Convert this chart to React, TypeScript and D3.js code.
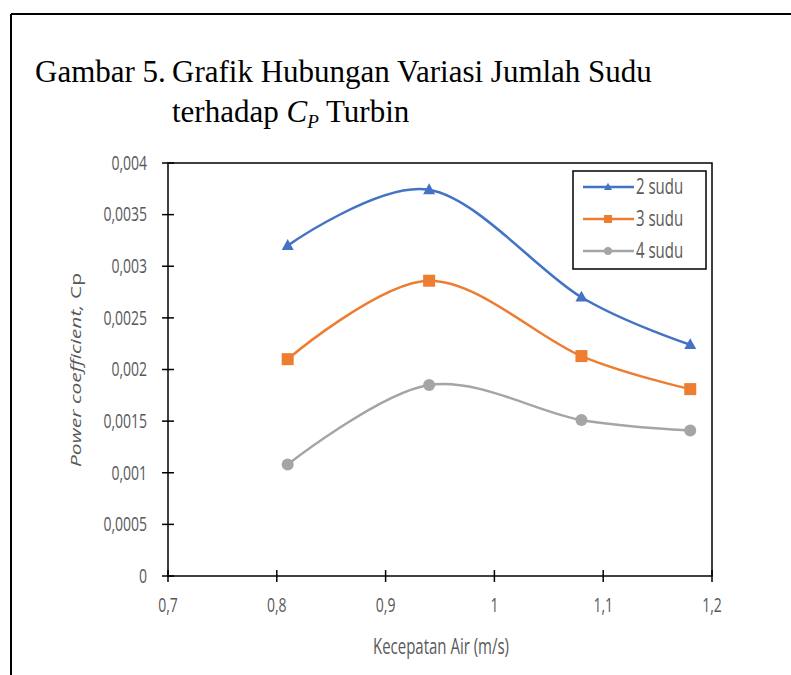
import React from "react";
import * as d3 from "d3";

const speeds = [0.81, 0.94, 1.08, 1.18];
const sudu2 = [0.0032, 0.00374, 0.0027, 0.00224];
const sudu3 = [0.0021, 0.00286, 0.00213, 0.00181];
const sudu4 = [0.00108, 0.00185, 0.00151, 0.00141];
const seriesNames = ["2 sudu", "3 sudu", "4 sudu"];
const xTicks = [0.7, 0.8, 0.9, 1, 1.1, 1.2];
const yTicks = [0, 0.0005, 0.001, 0.0015, 0.002, 0.0025, 0.003, 0.0035, 0.004];

const W = 791;
const H = 675;
const colors = ["#4472C4", "#ED7D31", "#A5A5A5"];
const shapes = ["triangle", "square", "circle"];
const axisFont = "'Open Sans', 'Noto Sans', sans-serif";
const serif = "'Liberation Serif', 'Times New Roman', serif";
const textGray = "#595959";
const stretch = 1.4;

function fmt(v: number) {
  const s = String(+v.toFixed(4));
  return s.replace(".", ",");
}

function Marker({ shape, x, y, size, color }: { shape: string; x: number; y: number; size: number; color: string }) {
  if (shape === "triangle") {
    const h = size * 0.9;
    const pts = `${x},${y - h * 0.6} ${x + size / 2},${y + h * 0.4} ${x - size / 2},${y + h * 0.4}`;
    return <polygon points={pts} fill={color} />;
  }
  if (shape === "square") {
    return <rect x={x - size / 2} y={y - size / 2} width={size} height={size} fill={color} />;
  }
  return <circle cx={x} cy={y} r={size / 2} fill={color} />;
}

function SText({ x, y, anchor, children, size = 14 }: { x: number; y: number; anchor?: string; children: any; size?: number }) {
  return (
    <text
      transform={`translate(${x},${y}) scale(1,${stretch})`}
      textAnchor={anchor || "start"}
      dy="0.35em"
      fontFamily={axisFont}
      fontSize={size}
      fill={textGray}
    >
      {children}
    </text>
  );
}

export default function App() {
  const x = d3.scaleLinear().domain([0.7, 1.2]).range([168, 712]);
  const y = d3.scaleLinear().domain([0, 0.004]).range([576, 163]);
  const all = [sudu2, sudu3, sudu4];
  const line = d3
    .line<number>()
    .x((_, i) => x(speeds[i]))
    .y((d) => y(d))
    .curve(d3.curveCardinal.tension(0));

  const legendRows = [187, 219, 251];

  return (
    <svg width={W} height={H} style={{ display: "block", position: "absolute", left: 0, top: 0 }}>
      <rect x={0} y={0} width={W} height={H} fill="#fff" />
      {/* figure frame */}
      <line x1={11} y1={14} x2={W} y2={14} stroke="#000" strokeWidth={2} />
      <line x1={11} y1={14} x2={11} y2={H} stroke="#000" strokeWidth={2} />

      {/* caption */}
      <text x={35} y={82} fontFamily={serif} fontSize={31} fill="#000">
        Gambar 5.
      </text>
      <text x={172} y={82} fontFamily={serif} fontSize={31} fill="#000">
        Grafik Hubungan Variasi Jumlah Sudu
      </text>
      <text x={172} y={122} fontFamily={serif} fontSize={31} fill="#000">
        terhadap <tspan fontStyle="italic">C</tspan>
        <tspan fontStyle="italic" fontSize={19} dy={6}>P</tspan>
        <tspan dy={-6}> Turbin</tspan>
      </text>

      {/* plot area border */}
      <rect x={x(0.7)} y={y(0.004)} width={x(1.2) - x(0.7)} height={y(0) - y(0.004)} fill="none" stroke="#000" strokeWidth={1.5} />

      {/* y ticks */}
      {yTicks.map((t) => (
        <g key={"y" + t}>
          <line x1={x(0.7) - 6} x2={x(0.7) + 6} y1={y(t)} y2={y(t)} stroke="#000" strokeWidth={1.5} />
          <SText x={147} y={y(t)} anchor="end">{fmt(t)}</SText>
        </g>
      ))}
      {/* x ticks */}
      {xTicks.map((t) => (
        <g key={"x" + t}>
          <line x1={x(t)} x2={x(t)} y1={y(0) - 6} y2={y(0) + 6} stroke="#000" strokeWidth={1.5} />
          <SText x={x(t)} y={605} anchor="middle">{fmt(t)}</SText>
        </g>
      ))}

      {/* axis titles */}
      <SText x={441} y={647} anchor="middle" size={15}>Kecepatan Air (m/s)</SText>
      <text
        transform={`translate(76, 370) rotate(-90) scale(1.4,1)`}
        textAnchor="middle"
        dy="0.35em"
        fontFamily={axisFont}
        fontSize={15}
        fill={textGray}
      >
        <tspan fontStyle="italic">Power coefficient,</tspan>
        <tspan> Cp</tspan>
      </text>

      {/* series */}
      {all.map((vals, si) => (
        <g key={"s" + si}>
          <path d={line(vals) || ""} fill="none" stroke={colors[si]} strokeWidth={2.5} />
          {vals.map((v, i) => (
            <Marker key={i} shape={shapes[si]} x={x(speeds[i])} y={y(v)} size={12} color={colors[si]} />
          ))}
        </g>
      ))}

      {/* legend */}
      <rect x={573} y={171} width={133} height={98} fill="#fff" stroke="#000" strokeWidth={1.5} />
      {seriesNames.map((n, i) => (
        <g key={n}>
          <line x1={583} x2={634} y1={legendRows[i]} y2={legendRows[i]} stroke={colors[i]} strokeWidth={2.5} />
          <Marker shape={shapes[i]} x={608} y={legendRows[i]} size={8} color={colors[i]} />
          <SText x={636} y={legendRows[i]} size={15}>{n}</SText>
        </g>
      ))}
    </svg>
  );
}
